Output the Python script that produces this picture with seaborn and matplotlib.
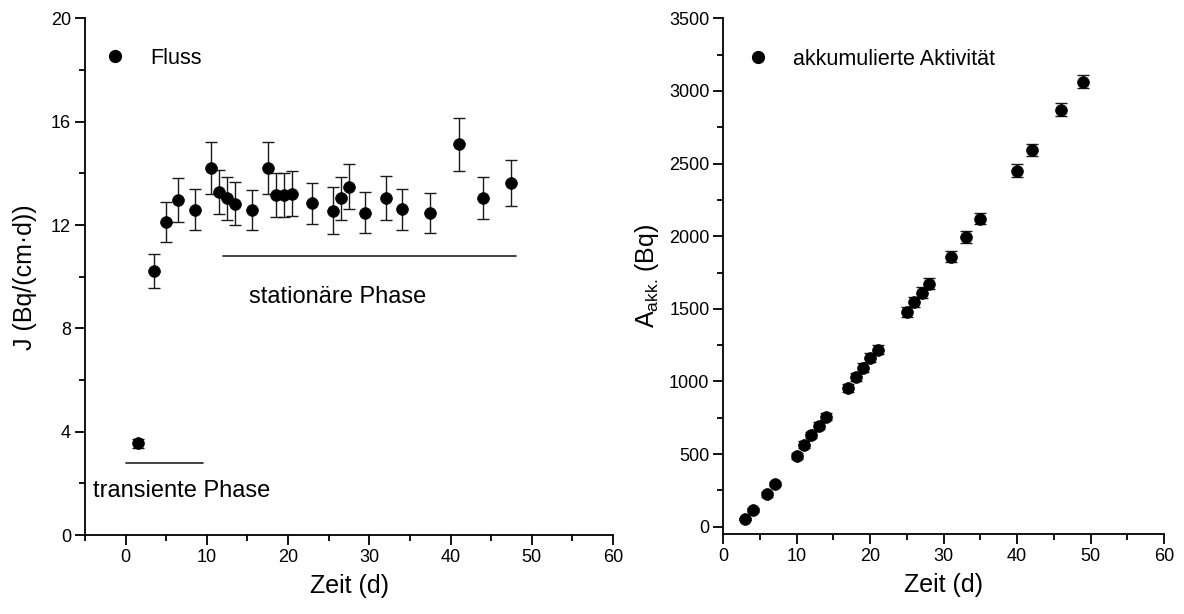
import matplotlib
matplotlib.use("Agg")
import matplotlib.pyplot as plt
import seaborn as sns
import pandas as pd
from matplotlib.ticker import MultipleLocator
from matplotlib.lines import Line2D

# ---------------- data ----------------
t_flux = [1.5, 3.5, 5, 6.5, 8.5, 10.5, 11.5, 12.5, 13.5, 15.5, 17.5, 18.5, 19.5,
          20.5, 23, 25.5, 26.5, 27.5, 29.5, 32, 34, 37.5, 41, 44, 47.5]
flux = [3.55, 10.22, 12.12, 12.96, 12.60, 14.20, 13.27, 13.03, 12.82, 12.57, 14.20,
        13.15, 13.15, 13.22, 12.84, 12.56, 13.03, 13.49, 12.48, 13.03, 12.61, 12.47,
        15.13, 13.05, 13.62]
flux_err = [0.17, 0.66, 0.76, 0.85, 0.78, 1.00, 0.85, 0.83, 0.83, 0.78, 1.00, 0.85,
            0.85, 0.87, 0.80, 0.90, 0.84, 0.87, 0.78, 0.85, 0.80, 0.77, 1.02, 0.81, 0.89]

t_akk = [3, 4, 6, 7, 10, 11, 12, 13, 14, 17, 18, 19, 20, 21, 25, 26, 27, 28, 31,
         33, 35, 40, 42, 46, 49]
akk = [53, 115, 223, 294, 489, 565, 632, 696, 758, 955, 1031, 1095, 1164, 1219,
       1479, 1548, 1612, 1674, 1860, 1995, 2121, 2452, 2594, 2870, 3063]
akk_err = [10, 12, 15, 17, 20, 22, 23, 25, 26, 28, 29, 30, 31, 32, 34, 35, 36, 37,
           38, 39, 40, 42, 43, 45, 46]

label_flux = "Fluss"
label_akk = "akkumulierte Aktivität"
xlabel = "Zeit (d)"
ylabel_left = "J (Bq/(cm·d))"
ylabel_right = r"A$_{\mathrm{akk.}}\!$ (Bq)"
text_stat = "stationäre Phase"
text_trans = "transiente Phase"

df_flux = pd.DataFrame({"t": t_flux, "J": flux, "err": flux_err})
df_akk = pd.DataFrame({"t": t_akk, "A": akk, "err": akk_err})

# ---------------- style ----------------
sns.set_style("ticks")
plt.rcParams["font.family"] = ["Liberation Sans", "DejaVu Sans"]
plt.rcParams["mathtext.fontset"] = "custom"
plt.rcParams["mathtext.rm"] = "Liberation Sans"
plt.rcParams["mathtext.it"] = "Liberation Sans:italic"
plt.rcParams["mathtext.bf"] = "Liberation Sans:bold"
plt.rcParams["text.color"] = "black"
plt.rcParams["axes.labelcolor"] = "black"
plt.rcParams["xtick.color"] = "black"
plt.rcParams["ytick.color"] = "black"
plt.rcParams["axes.edgecolor"] = "black"

fig = plt.figure(figsize=(11.84, 6.14), dpi=100)
W, H = 1184, 614
ax1 = fig.add_axes([85 / W, 1 - 535 / H, (613 - 85) / W, (535 - 18.4) / H])
ax2 = fig.add_axes([723.3 / W, 1 - 534 / H, (1164 - 723.3) / W, (534 - 18.3) / H])

ms = 72
for ax in (ax1, ax2):
    for s in ("top", "right"):
        ax.spines[s].set_visible(False)
    for s in ("left", "bottom"):
        ax.spines[s].set_linewidth(1.3)
        ax.spines[s].set_color("black")
    ax.tick_params(which="major", direction="out", length=7, width=1.3,
                   labelsize=13, colors="black", labelcolor="black", pad=3)
    ax.tick_params(which="minor", direction="out", length=4, width=1.3, colors="black")

# left panel
ax1.errorbar(df_flux["t"], df_flux["J"], yerr=df_flux["err"], fmt="none",
             ecolor="#1a1a1a", elinewidth=1.0, capsize=4, capthick=1.0, zorder=2)
sns.scatterplot(data=df_flux, x="t", y="J", ax=ax1, color="black", s=ms,
                edgecolor="black", linewidth=0.5, zorder=3, legend=False)
ax1.plot([0, 9.5], [2.8, 2.8], color="#222222", lw=1.2)
ax1.plot([12, 48], [10.81, 10.81], color="#222222", lw=1.2)
ax1.text(15.15, 8.97, text_stat, fontsize=17, ha="left", va="baseline", color="black")
ax1.text(-4.0, 1.48, text_trans, fontsize=17, ha="left", va="baseline", color="black")
ax1.set_xlim(-5, 60)
ax1.set_ylim(0, 20)
ax1.xaxis.set_major_locator(MultipleLocator(10))
ax1.xaxis.set_minor_locator(MultipleLocator(5))
ax1.yaxis.set_major_locator(MultipleLocator(4))
ax1.yaxis.set_minor_locator(MultipleLocator(2))
ax1.set_xticks([0, 10, 20, 30, 40, 50, 60])
ax1.set_xlabel(xlabel, fontsize=18, labelpad=6, color="black")
ax1.set_ylabel(ylabel_left, fontsize=18, labelpad=10, color="black")

h1 = [Line2D([], [], ls="none", marker="o", color="black", markersize=8.5)]
leg1 = ax1.legend(h1, [label_flux], loc="center left", bbox_to_anchor=(0.0365, 0.923),
                  frameon=False, fontsize=15.5, handlelength=1.0, handletextpad=1.13,
                  borderpad=0, borderaxespad=0, labelcolor="black")

# right panel
ax2.errorbar(df_akk["t"], df_akk["A"], yerr=df_akk["err"], fmt="none",
             ecolor="#1a1a1a", elinewidth=1.0, capsize=4, capthick=1.0, zorder=2)
sns.scatterplot(data=df_akk, x="t", y="A", ax=ax2, color="black", s=ms,
                edgecolor="black", linewidth=0.5, zorder=3, legend=False)
ax2.set_xlim(0, 60)
ax2.set_ylim(-50, 3500)
ax2.xaxis.set_major_locator(MultipleLocator(10))
ax2.xaxis.set_minor_locator(MultipleLocator(5))
ax2.yaxis.set_major_locator(MultipleLocator(500))
ax2.yaxis.set_minor_locator(MultipleLocator(250))
ax2.set_yticks([0, 500, 1000, 1500, 2000, 2500, 3000, 3500])
ax2.set_xlabel(xlabel, fontsize=18, labelpad=6, color="black")
ax2.set_ylabel(ylabel_right, fontsize=18, labelpad=6, color="black")

h2 = [Line2D([], [], ls="none", marker="o", color="black", markersize=8.5)]
ax2.legend(h2, [label_akk], loc="center left", bbox_to_anchor=(0.055, 0.921),
           frameon=False, fontsize=15.5, handlelength=1.0, handletextpad=1.1,
           borderpad=0, borderaxespad=0, labelcolor="black")

fig.savefig("out.png", dpi=100)
